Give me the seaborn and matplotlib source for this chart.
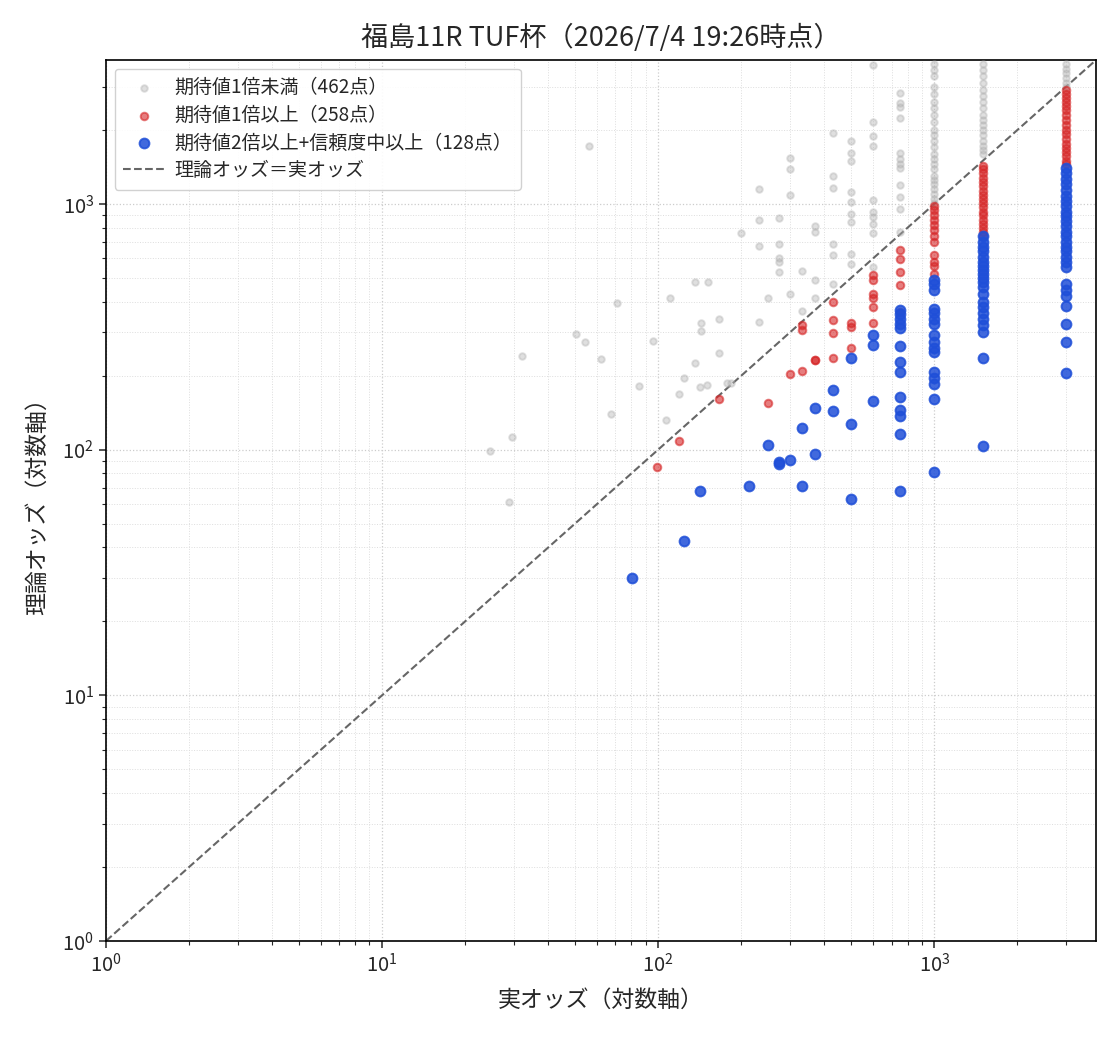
import numpy as np
import pandas as pd
import matplotlib
matplotlib.use("Agg")
import matplotlib.pyplot as plt
import seaborn as sns

# ---------------- data ----------------
title = "福島11R TUF杯（2026/7/4 19:26時点）"
xlabel = "実オッズ（対数軸）"
ylabel = "理論オッズ（対数軸）"
n_low, n_mid, n_high = 462, 258, 128
label_low = f"期待値1倍未満（{n_low}点）"
label_mid = f"期待値1倍以上（{n_mid}点）"
label_high = f"期待値2倍以上+信頼度中以上（{n_high}点）"
label_line = "理論オッズ＝実オッズ"

# gray: expected value < 1
low_x = [24.6, 28.8, 29.5, 32.1, 50.4, 54.3, 56.2, 62, 71, 67.5, 85, 96, 107, 110,
         119, 124, 136, 136, 143, 143, 151, 142, 150, 166, 166, 177, 183, 200, 231,
         231, 232, 249, 273, 273, 273, 273, 273, 231, 299, 299, 299, 299, 333, 333,
         371, 371, 371, 371, 428, 428, 428, 428, 428, 428,
         500, 500, 500, 500, 500, 500, 500, 500, 500,
         600, 600, 600, 600, 600, 600, 600, 600, 600, 600,
         750, 750, 750, 750, 750, 750, 750, 750, 750, 750, 750, 750,
         1000, 1000, 1000, 1000, 1000, 1000, 1000, 1000, 1000, 1000, 1000, 1000,
         1000, 1000, 1000, 1000, 1000, 1000, 1000, 1000, 1000, 1000, 1000, 1000,
         1500, 1500, 1500, 1500, 1500, 1500, 1500, 1500, 1500, 1500, 1500, 1500,
         1500, 1500, 1500, 1500, 1500,
         3000, 3000, 3000, 3000, 3000, 3000]
low_y = [99, 61, 113, 240, 296, 274, 1727, 234, 395, 139, 182, 277, 132, 414,
         169, 196, 481, 225, 327, 304, 481, 180, 184, 340, 248, 187, 187, 759, 673,
         857, 1145, 414, 873, 685, 601, 579, 527, 331, 1544, 1380, 1082, 430, 532, 366,
         810, 766, 489, 414, 1950, 1294, 1157, 685, 618, 471,
         1794, 1618, 1500, 1114, 1014, 906, 841, 624, 569,
         3680, 2161, 1880, 1727, 1033, 925, 882, 826, 759, 553,
         2833, 2584, 2490, 2245, 1618, 1517, 1447, 1400, 1189, 1062, 951, 766,
         3700, 3500, 3300, 3000, 2800, 2600, 2450, 2300, 2150, 2000, 1900, 1800,
         1700, 1600, 1520, 1450, 1380, 1300, 1250, 1200, 1150, 1100, 1050, 1010,
         3700, 3500, 3300, 3100, 2900, 2750, 2600, 2450, 2300, 2200, 2100, 2000,
         1900, 1800, 1720, 1650, 1600,
         3700, 3550, 3400, 3250, 3100, 3000]

# red: expected value >= 1
mid_x = [99, 119, 166, 249, 299, 333, 333, 333, 371, 371,
         428, 428, 428, 428, 500, 500, 500,
         600, 600, 600, 600, 600, 600,
         750, 750, 750, 750, 750,
         1000, 1000, 1000, 1000, 1000, 1000, 1000, 1000, 1000, 1000, 1000, 1000,
         1500, 1500, 1500, 1500, 1500, 1500, 1500, 1500, 1500, 1500, 1500, 1500,
         1500, 1500, 1500, 1500, 1500, 1500,
         3000, 3000, 3000, 3000, 3000, 3000, 3000, 3000, 3000, 3000, 3000, 3000,
         3000, 3000, 3000, 3000, 3000, 3000]
mid_y = [85, 108, 161, 155, 203, 209, 307, 321, 232, 232,
         398, 337, 298, 236, 327, 315, 259,
         513, 489, 430, 414, 380, 327,
         648, 595, 527, 467, 363,
         980, 940, 900, 860, 820, 780, 740, 700, 620, 580, 560, 520,
         1430, 1380, 1330, 1280, 1230, 1180, 1130, 1090, 1050, 1010, 970, 930,
         900, 860, 830, 800, 770, 740,
         2900, 2800, 2700, 2600, 2500, 2400, 2300, 2200, 2100, 2000, 1920, 1840,
         1760, 1690, 1620, 1560, 1500, 1450]

# blue: expected value >= 2 and confidence medium or higher
high_x = [80.5, 124, 142, 214, 249, 273, 273, 299, 333, 333, 371, 371, 428, 428,
          500, 500, 500, 600, 600, 600,
          750, 750, 750, 750, 750, 750, 750, 750, 750, 750, 750, 750, 750,
          1000, 1000, 1000, 1000, 1000, 1000, 1000, 1000, 1000, 1000, 1000, 1000,
          1000, 1000, 1000, 1000,
          1500, 1500, 1500, 1500, 1500, 1500, 1500, 1500, 1500, 1500, 1500, 1500,
          1500, 1500, 1500, 1500, 1500, 1500, 1500, 1500, 1500,
          3000, 3000, 3000, 3000, 3000, 3000, 3000, 3000, 3000, 3000, 3000, 3000,
          3000, 3000, 3000, 3000, 3000, 3000, 3000, 3000, 3000, 3000, 3000, 3000,
          3000, 3000, 3000]
high_y = [30, 42.4, 68, 71, 104, 89, 87, 91, 71, 122, 148, 96, 175, 144,
          236, 127, 63, 157, 293, 267,
          370, 355, 340, 325, 312, 263, 228, 207, 164, 145, 137, 116, 68,
          490, 470, 445, 375, 360, 340, 325, 293, 275, 260, 250, 207,
          195, 185, 161, 81,
          740, 700, 670, 640, 610, 580, 560, 540, 520, 500, 480, 460,
          430, 400, 380, 360, 340, 320, 300, 235, 103,
          1400, 1330, 1260, 1200, 1140, 1080, 1030, 980, 930, 890, 850, 810,
          770, 740, 700, 670, 640, 610, 580, 555, 470, 445, 420, 385,
          325, 273, 205]

axis_lim = 3850

# ---------------- plotting ----------------
sns.set_style("ticks")
plt.rcParams['font.family'] = ['Noto Sans CJK JP', 'DejaVu Sans']
plt.rcParams['axes.unicode_minus'] = False

df = pd.concat([
    pd.DataFrame({"actual": low_x, "theory": low_y, "group": "low"}),
    pd.DataFrame({"actual": mid_x, "theory": mid_y, "group": "mid"}),
    pd.DataFrame({"actual": high_x, "theory": high_y, "group": "high"}),
], ignore_index=True)

fig = plt.figure(figsize=(11.2, 10.4), dpi=100)
ax = fig.add_axes([0.0946, 0.0952, 0.8840, 0.8471])

styles = {
    "low": dict(color="#b0b0b0", s=22, alpha=0.4, label=label_low),
    "mid": dict(color="#d62728", s=30, alpha=0.6, label=label_mid),
    "high": dict(color="#1f4fd8", s=50, alpha=0.85, label=label_high),
}
for g in ["low", "mid", "high"]:
    st = styles[g]
    sns.scatterplot(data=df[df["group"] == g], x="actual", y="theory", ax=ax,
                    color=st["color"], s=st["s"], alpha=st["alpha"],
                    edgecolor="face", linewidth=1.4, label=st["label"], zorder=3)

ax.set_xscale("log")
ax.set_yscale("log")
ax.set_xlim(1, axis_lim)
ax.set_ylim(1, axis_lim)
ax.plot([1, axis_lim], [1, axis_lim], linestyle="--", color="#666666",
        linewidth=1.5, label=label_line, zorder=2)

ax.grid(True, which="major", linestyle=":", color="#cccccc", linewidth=0.9)
ax.grid(True, which="minor", linestyle=":", color="#dddddd", linewidth=0.7)
ax.set_axisbelow(True)
for sp in ax.spines.values():
    sp.set_visible(True)
    sp.set_color("black")
    sp.set_linewidth(1.2)

ax.tick_params(axis="both", which="major", labelsize=14.5, direction="out",
               length=5, width=1.1)
ax.tick_params(axis="both", which="minor", direction="out", length=3, width=0.8)

ax.set_title(title, fontsize=19.5, pad=10)
ax.set_xlabel(xlabel, fontsize=16.5, labelpad=9)
ax.set_ylabel(ylabel, fontsize=16.5, labelpad=10)

ax.legend(loc="upper left", fontsize=13.7, frameon=True, framealpha=0.9,
          edgecolor="#cccccc", handletextpad=0.5, handlelength=2.2,
          borderpad=0.45, labelspacing=0.35, borderaxespad=0.45)

fig.savefig("out.png", dpi=100)
